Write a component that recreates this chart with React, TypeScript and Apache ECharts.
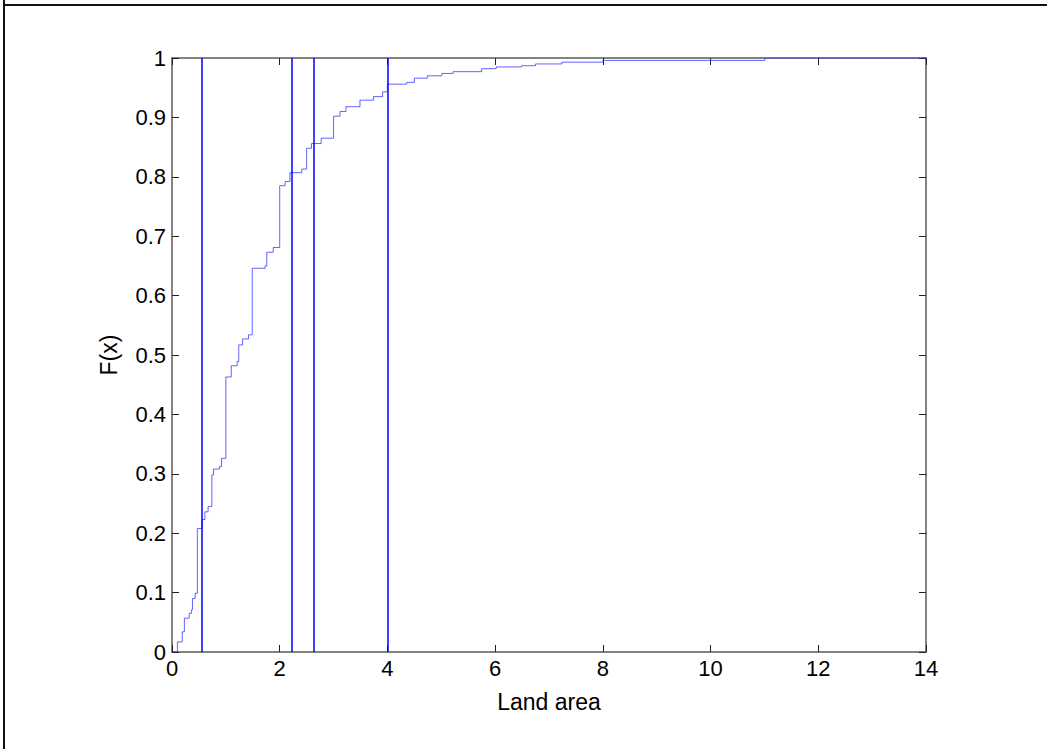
import React, { useEffect, useRef } from "react";
import * as echarts from "echarts";

// Empirical CDF of land area: jump locations and the value of F(x) right after each jump
const jumpX = [
  0, 0.1, 0.19, 0.23, 0.32, 0.36, 0.38, 0.43, 0.47, 0.56, 0.61, 0.67, 0.74, 0.77, 0.88, 0.92,
  1.0, 1.1, 1.21, 1.24, 1.31, 1.42, 1.49, 1.73, 1.76, 1.88, 2.0, 2.1, 2.19, 2.41, 2.5,
  2.59, 2.77, 3.0, 3.12, 3.23, 3.49, 3.74, 3.91, 4.0, 4.36, 4.5, 4.74, 5.01, 5.22, 5.75,
  6.02, 6.49, 6.75, 7.24, 8.0, 11.01, 14,
];
const cdfF = [
  0, 0.017, 0.034, 0.057, 0.065, 0.071, 0.09, 0.099, 0.208, 0.223, 0.236, 0.245, 0.298, 0.308,
  0.312, 0.326, 0.463, 0.482, 0.489, 0.517, 0.527, 0.534, 0.646, 0.65, 0.673, 0.681, 0.785,
  0.792, 0.807, 0.813, 0.848, 0.856, 0.865, 0.902, 0.91, 0.918, 0.929, 0.935, 0.943, 0.956,
  0.959, 0.966, 0.97, 0.974, 0.977, 0.982, 0.985, 0.987, 0.99, 0.993, 0.996, 1.0, 1.0,
];

// Vertical reference lines
const markerX = [0.55, 2.23, 2.64, 4.0];

const xTicks = [0, 2, 4, 6, 8, 10, 12, 14];
const yTicks = [0, 0.1, 0.2, 0.3, 0.4, 0.5, 0.6, 0.7, 0.8, 0.9, 1];

const FONT = "Liberation Sans, Arial, Helvetica, sans-serif";
const AXIS_COLOR = "#5a5a5a";

export default function App() {
  const ref = useRef<HTMLDivElement>(null);

  useEffect(() => {
    if (!ref.current) return;
    const chart = echarts.init(ref.current, null, { renderer: "svg" });

    const fmtY = (v: number) => {
      const r = Math.round(v * 10) / 10;
      return yTicks.some((t) => Math.abs(t - r) < 1e-9) ? String(r) : "";
    };

    const axisLine = { show: true, onZero: false, lineStyle: { color: AXIS_COLOR, width: 1.5 } };
    const axisTick = { show: true, inside: true, length: 7, lineStyle: { color: "#222", width: 1 } };

    const baseX = {
      type: "value" as const,
      min: xTicks[0],
      max: xTicks[xTicks.length - 1],
      interval: 2,
      axisLine,
      axisTick,
      splitLine: { show: false },
    };
    const baseY = {
      type: "value" as const,
      min: 0,
      max: 1,
      interval: 0.1,
      axisLine,
      axisTick,
      splitLine: { show: false },
    };

    chart.setOption({
      animation: false,
      backgroundColor: "#ffffff",
      grid: { left: 172, top: 58, right: 121, bottom: 97, containLabel: false },
      xAxis: [
        {
          ...baseX,
          position: "bottom",
          name: "Land area",
          nameLocation: "middle",
          nameGap: 38,
          nameTextStyle: { fontFamily: FONT, fontSize: 23, color: "#000" },
          axisLabel: { fontFamily: FONT, fontSize: 22, color: "#000", margin: 5 },
        },
        { ...baseX, position: "top", axisLabel: { show: false } },
      ],
      yAxis: [
        {
          ...baseY,
          position: "left",
          name: "F(x)",
          nameLocation: "middle",
          nameGap: 52,
          nameRotate: 90,
          nameTextStyle: { fontFamily: FONT, fontSize: 23, color: "#000" },
          axisLabel: { fontFamily: FONT, fontSize: 22, color: "#000", margin: 6, formatter: fmtY },
        },
        { ...baseY, position: "right", axisLabel: { show: false } },
      ],
      series: [
        {
          type: "line",
          step: "end",
          data: jumpX.map((x, i) => [x, cdfF[i]]),
          showSymbol: false,
          symbol: "none",
          lineStyle: { color: "#3030ff", width: 1, opacity: 0.75 },
          markLine: {
            silent: true,
            symbol: ["none", "none"],
            label: { show: false },
            lineStyle: { color: "#0000ff", width: 1.5, type: "solid", opacity: 1 },
            data: markerX.map((x) => ({ xAxis: x })),
          },
          z: 3,
        },
      ],
      graphic: [
        {
          type: "line",
          shape: { x1: 4, y1: 0, x2: 4, y2: 749 },
          style: { stroke: "#111", lineWidth: 2 },
        },
        {
          type: "line",
          shape: { x1: 3, y1: 5, x2: 1047, y2: 5 },
          style: { stroke: "#111", lineWidth: 2 },
        },
      ],
    });

    return () => chart.dispose();
  }, []);

  return (
    <div
      ref={ref}
      style={{ position: "absolute", left: 0, top: 0, width: 1047, height: 749, background: "#fff" }}
    />
  );
}
